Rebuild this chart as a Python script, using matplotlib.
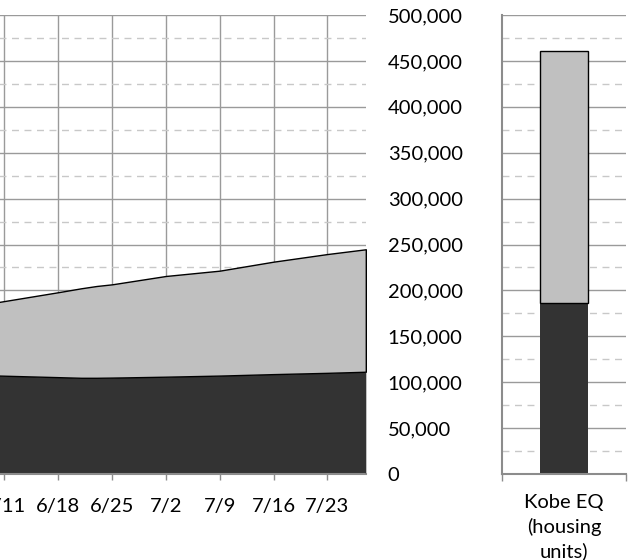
import matplotlib
matplotlib.use("Agg")
import matplotlib.pyplot as plt
import matplotlib.dates as mdates
import numpy as np
import pandas as pd
from matplotlib.ticker import FuncFormatter, MultipleLocator

plt.rcParams['font.family'] = ['Lato', 'DejaVu Sans']

# Weekly tally of temporary housing (stacked series)
dates = pd.to_datetime(["2011-06-10", "2011-06-18", "2011-06-21", "2011-06-23", "2011-06-25",
                        "2011-07-02", "2011-07-09", "2011-07-16", "2011-07-23", "2011-07-28"])
dark_units = [107300, 105500, 104800, 104800, 105000, 106000, 107200, 108800, 110200, 111400]
light_units = [79700, 92500, 97500, 100000, 101600, 109700, 114300, 122500, 129400, 133400]

tick_dates = pd.to_datetime(["2011-06-11", "2011-06-18", "2011-06-25", "2011-07-02",
                             "2011-07-09", "2011-07-16", "2011-07-23"])
tick_labels = ["6/11", "6/18", "6/25", "7/2", "7/9", "7/16", "7/23"]

# Kobe earthquake comparison bar
kobe_label = "Kobe EQ\n(housing\nunits)"
kobe_dark = 186000
kobe_light = 275000

DARK = "#333333"
LIGHT = "#c0c0c0"
GRID = "#9a9a9a"
MINOR = "#c8c8c8"
SPINE = "#8c8c8c"
FS = 14.5

W, H = 630, 560
fig = plt.figure(figsize=(W / 100, H / 100), dpi=100)

top_px, bot_px = 15, 474
def rect(x0, x1):
    return [x0 / W, (H - bot_px) / H, (x1 - x0) / W, (bot_px - top_px) / H]

ax = fig.add_axes(rect(-3.4, 365.8))
ax2 = fig.add_axes(rect(502, 626))

for a in (ax, ax2):
    a.set_ylim(0, 500000)
    a.yaxis.set_major_locator(MultipleLocator(50000))
    a.yaxis.set_minor_locator(MultipleLocator(25000))
    a.grid(True, which='major', axis='y', color=GRID, lw=1.0, zorder=0)
    a.grid(True, which='minor', axis='y', color=MINOR, lw=1.0, ls=(0, (5, 4)), zorder=0)
    a.set_axisbelow(True)
    for s in ('top', 'right', 'left'):
        a.spines[s].set_visible(False)
    a.spines['bottom'].set_color(SPINE)
    a.spines['bottom'].set_linewidth(1.5)
    a.tick_params(axis='y', which='both', length=0)

# Stacked area chart
x = mdates.date2num(dates)
ax.fill_between(x, 0, dark_units, color=DARK, lw=0, zorder=2)
upper = np.array(dark_units) + np.array(light_units)
ax.fill_between(x, dark_units, upper, facecolor=LIGHT, edgecolor='black', lw=1.0, zorder=2)
ax.plot([x[-1], x[-1]], [0, dark_units[-1]], color=DARK, lw=1.0, zorder=3)

ax.set_xlim(x[0], x[-1])
ax.set_xticks(mdates.date2num(tick_dates))
ax.set_xticklabels(tick_labels, fontsize=FS)
ax.grid(True, which='major', axis='x', color=GRID, lw=1.0, zorder=0)
ax.tick_params(axis='x', length=4.3, color=SPINE, width=1.0, pad=13)
ax.yaxis.tick_right()
ax.yaxis.set_major_formatter(FuncFormatter(lambda v, p: f"{int(v):,}"))
ax.tick_params(axis='y', labelsize=FS, pad=15.8)
for lbl in ax.get_yticklabels():
    lbl.set_horizontalalignment('left')

# Comparison bar
ax2.bar([0], [kobe_dark], width=0.39, color=DARK, lw=0, zorder=2)
ax2.bar([0], [kobe_light], bottom=[kobe_dark], width=0.39, facecolor=LIGHT,
        edgecolor='black', lw=1.0, zorder=2)
ax2.set_xlim(-0.5, 0.5)
ax2.spines['left'].set_visible(True)
ax2.spines['left'].set_color(SPINE)
ax2.spines['left'].set_linewidth(1.5)
ax2.set_yticklabels([])
ax2.set_xticks([0])
ax2.set_xticklabels([kobe_label], fontsize=FS, linespacing=1.42)
ax2.set_xticks([-0.5, 0.5], minor=True)
ax2.tick_params(axis='x', which='major', length=0, pad=14.5)
ax2.tick_params(axis='x', which='minor', length=5, color=SPINE, width=1.0)

fig.savefig("out.png", dpi=100)
